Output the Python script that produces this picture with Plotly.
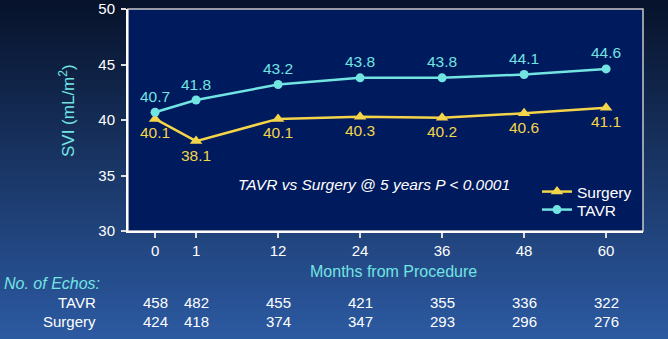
import plotly.graph_objects as go

# Follow-up times (months) and mean stroke volume index (mL/m²)
months = [0, 1, 12, 24, 36, 48, 60]
tavr_svi = [40.7, 41.8, 43.2, 43.8, 43.8, 44.1, 44.6]
surgery_svi = [40.1, 38.1, 40.1, 40.3, 40.2, 40.6, 41.1]

# Number of echocardiograms available at each time point
tavr_echos = [458, 482, 455, 421, 355, 336, 322]
surgery_echos = [424, 418, 374, 347, 293, 296, 276]

W, H = 668, 339
ML, MR, MT, MB = 128, 25, 9, 108
PW, PH = W - ML - MR, H - MT - MB

FONT = "Liberation Sans, Arial, sans-serif"
TAVR_C = "#72e4e2"
SURG_C = "#f4d54a"
PLOT_BG = "#001a5e"


def axis_pos(m):
    """Broken time axis: baseline and 1 month share the first slot, then yearly slots."""
    return m / 2 if m <= 1 else 1.5 + (m - 12) / 12


def px_x(px):
    return (px - ML) / PW


def px_y(py):
    return (H - MB - py) / PH


xs = [axis_pos(m) for m in months]

fig = go.Figure()

fig.add_trace(go.Scatter(
    x=xs, y=surgery_svi, name="Surgery", legend="legend",
    mode="lines+markers+text",
    line=dict(color=SURG_C, width=2.5),
    marker=dict(symbol="triangle-up", size=11, color=SURG_C),
    text=[f"{v:.1f}" for v in surgery_svi],
    textposition="bottom center",
    textfont=dict(color=SURG_C, size=15.5, family=FONT),
))
fig.add_trace(go.Scatter(
    x=xs, y=tavr_svi, name="TAVR", legend="legend2",
    mode="lines+markers+text",
    line=dict(color=TAVR_C, width=2.5),
    marker=dict(symbol="circle", size=9, color=TAVR_C),
    text=[f"{v:.1f}" for v in tavr_svi],
    textposition="top center",
    textfont=dict(color=TAVR_C, size=15.5, family=FONT),
))

# Slide background: vertical gradient from dark navy to mid blue
shapes = []
top_rgb = (7, 18, 42)
bot_rgb = (44, 90, 162)
n_bands = 113
for i in range(n_bands):
    y0 = i * H / n_bands
    y1 = (i + 1) * H / n_bands + 0.5
    t = (i + 0.5) / n_bands
    c = tuple(round(a + (b - a) * t) for a, b in zip(top_rgb, bot_rgb))
    shapes.append(dict(
        type="rect", xref="paper", yref="paper", layer="below",
        x0=px_x(-2), x1=px_x(W + 2), y0=px_y(y1), y1=px_y(y0 - (2 if i == 0 else 0)),
        fillcolor=f"rgb{c}", line=dict(width=0),
    ))
# Plot panel with a light frame
shapes.append(dict(
    type="rect", xref="paper", yref="paper", layer="below",
    x0=0, x1=1, y0=0, y1=1, fillcolor=PLOT_BG,
    line=dict(color="#c8c8c8", width=1.5),
))


def note(text, px, py, color="white", size=15, xanchor="center", angle=0):
    return dict(text=text, xref="paper", yref="paper", x=px_x(px), y=px_y(py),
                xanchor=xanchor, yanchor="middle", showarrow=False, textangle=angle,
                font=dict(color=color, size=size, family=FONT))


annotations = [
    note("<i>TAVR vs Surgery @ 5 years P &lt; 0.0001</i>", 374, 184, size=15.5),
    note("Months from Procedure", 393, 271, color=TAVR_C, size=16),
    note("SVI (mL/m<sup>2</sup>)", 67, 111, color=TAVR_C, size=17, angle=-90),
    note("<i>No. of Echos:</i>", 2, 283, color=TAVR_C, size=16, xanchor="left"),
    note("TAVR", 98, 302, xanchor="right"),
    note("Surgery", 98, 321, xanchor="right"),
]

for x, a, b in zip(xs, tavr_echos, surgery_echos):
    for val, py in ((a, 302), (b, 321)):
        annotations.append(dict(text=str(val), xref="x", yref="paper", x=x, y=px_y(py),
                                xanchor="center", yanchor="middle", showarrow=False,
                                font=dict(color="white", size=15, family=FONT)))

legend_common = dict(
    xanchor="left", yanchor="middle", bgcolor="rgba(0,0,0,0)",
    font=dict(color="white", size=15.5, family=FONT),
    borderwidth=0,
)

fig.update_layout(
    width=W, height=H, autosize=False,
    margin=dict(l=ML, r=MR, t=MT, b=MB, pad=0, autoexpand=False),
    paper_bgcolor="#1a3a78", plot_bgcolor=PLOT_BG,
    font=dict(family=FONT, color="white"),
    shapes=shapes, annotations=annotations,
    showlegend=True,
    legend=dict(x=px_x(537), y=px_y(192), **legend_common),
    legend2=dict(x=px_x(537), y=px_y(210), **legend_common),
    xaxis=dict(
        range=[axis_pos(0) - 0.33, axis_pos(60) + 0.45],
        tickvals=xs, ticktext=[str(m) for m in months],
        showline=True, linecolor="white", linewidth=2,
        ticks="outside", ticklen=5, tickwidth=1.5, tickcolor="#dddddd",
        tickfont=dict(color="white", size=15, family=FONT),
        showgrid=False, zeroline=False, automargin=False,
    ),
    yaxis=dict(
        range=[30, 50], tickvals=[30, 35, 40, 45, 50],
        showline=True, linecolor="white", linewidth=2,
        ticks="outside", ticklen=5, tickwidth=1.5, tickcolor="#dddddd",
        tickfont=dict(color="white", size=15, family=FONT),
        showgrid=False, zeroline=False, automargin=False, ticklabelstandoff=3,
    ),
)

fig.write_html("out.html")
